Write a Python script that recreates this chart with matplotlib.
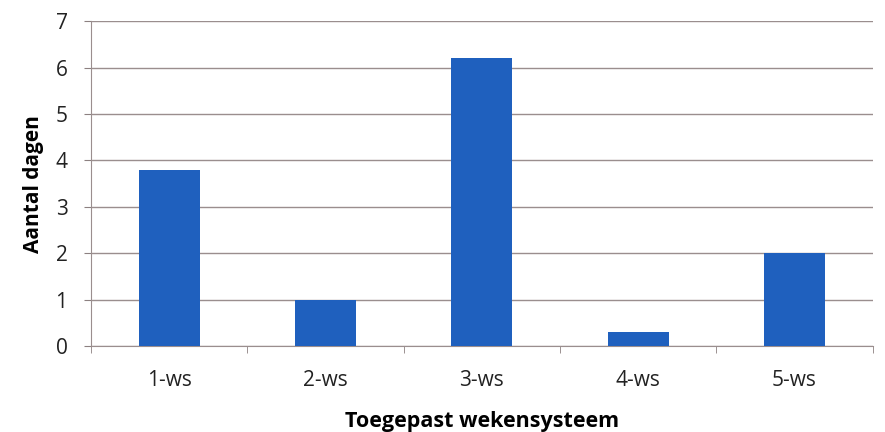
import matplotlib
matplotlib.use("Agg")
import matplotlib.pyplot as plt
from matplotlib.ticker import FixedLocator

categories = ["1-ws", "2-ws", "3-ws", "4-ws", "5-ws"]
values = [3.8, 1.0, 6.2, 0.3, 2.0]
yticks = [0, 1, 2, 3, 4, 5, 6, 7]

plt.rcParams['font.family'] = ['Open Sans', 'DejaVu Sans']

fig = plt.figure(figsize=(8.85, 4.32), dpi=100)
ax = fig.add_axes([0.103, 0.199, 0.883, 0.752])

x = list(range(len(categories)))
ax.bar(x, values, width=0.39, color="#1F60BE", zorder=3)

ax.set_xlim(-0.5, len(categories) - 0.5)
ax.set_ylim(0, 7)
ax.set_yticks(yticks)
ax.set_yticklabels([str(v) for v in yticks], fontsize=15, color="#222222")
ax.set_xticks(x)
ax.set_xticklabels(categories, fontsize=15, color="#222222")
ax.tick_params(axis='x', which='major', length=0, pad=17)
ax.xaxis.set_minor_locator(FixedLocator([i - 0.5 for i in range(len(categories) + 1)]))
ax.tick_params(axis='x', which='minor', length=5, color="#8C8080", direction='out')
ax.tick_params(axis='y', length=5, color="#8C8080", direction='out', pad=12)

gc = "#9A8E8E"
ax.yaxis.grid(True, color=gc, linewidth=1.0, zorder=0)
for s in ["top", "right"]:
    ax.spines[s].set_visible(False)
ax.spines["left"].set_color(gc)
ax.spines["bottom"].set_color(gc)

ax.set_ylabel("Aantal dagen", fontsize=15, fontweight='bold', labelpad=8)
ax.set_xlabel("Toegepast wekensysteem", fontsize=15.5, fontweight='bold', labelpad=15)

fig.savefig("out.png", dpi=100)
